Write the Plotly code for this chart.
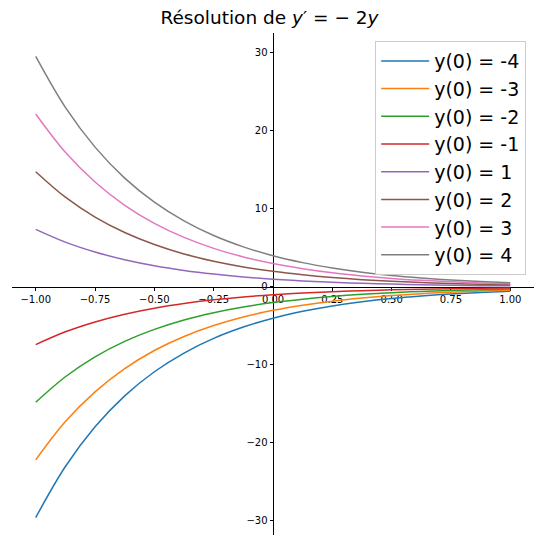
import plotly.graph_objects as go

x_vals = [-1.0, -0.875, -0.75, -0.625, -0.5, -0.375, -0.25, -0.125, 0.0,
          0.125, 0.25, 0.375, 0.5, 0.625, 0.75, 0.875, 1.0]

series_names = ["y(0) = -4", "y(0) = -3", "y(0) = -2", "y(0) = -1",
                "y(0) = 1", "y(0) = 2", "y(0) = 3", "y(0) = 4"]

y_m4 = [-29.56, -23.02, -17.93, -13.96, -10.87, -8.47, -6.59, -5.14, -4.00,
        -3.12, -2.43, -1.89, -1.47, -1.15, -0.89, -0.70, -0.54]
y_m3 = [-22.17, -17.26, -13.45, -10.47, -8.15, -6.35, -4.95, -3.85, -3.00,
        -2.34, -1.82, -1.42, -1.10, -0.86, -0.67, -0.52, -0.41]
y_m2 = [-14.78, -11.51, -8.96, -6.98, -5.44, -4.23, -3.30, -2.57, -2.00,
        -1.56, -1.21, -0.94, -0.74, -0.57, -0.45, -0.35, -0.27]
y_m1 = [-7.39, -5.75, -4.48, -3.49, -2.72, -2.12, -1.65, -1.28, -1.00,
        -0.78, -0.61, -0.47, -0.37, -0.29, -0.22, -0.17, -0.14]
y_p1 = [7.39, 5.75, 4.48, 3.49, 2.72, 2.12, 1.65, 1.28, 1.00,
        0.78, 0.61, 0.47, 0.37, 0.29, 0.22, 0.17, 0.14]
y_p2 = [14.78, 11.51, 8.96, 6.98, 5.44, 4.23, 3.30, 2.57, 2.00,
        1.56, 1.21, 0.94, 0.74, 0.57, 0.45, 0.35, 0.27]
y_p3 = [22.17, 17.26, 13.45, 10.47, 8.15, 6.35, 4.95, 3.85, 3.00,
        2.34, 1.82, 1.42, 1.10, 0.86, 0.67, 0.52, 0.41]
y_p4 = [29.56, 23.02, 17.93, 13.96, 10.87, 8.47, 6.59, 5.14, 4.00,
        3.12, 2.43, 1.89, 1.47, 1.15, 0.89, 0.70, 0.54]

all_series = [y_m4, y_m3, y_m2, y_m1, y_p1, y_p2, y_p3, y_p4]
colors = ["#1f77b4", "#ff7f0e", "#2ca02c", "#d62728",
          "#9467bd", "#8c564b", "#e377c2", "#7f7f7f"]

x_ticks = [-1.0, -0.75, -0.5, -0.25, 0.0, 0.25, 0.5, 0.75, 1.0]
y_ticks = [-30, -20, -10, 0, 10, 20, 30]

W, H = 539, 535
ml, mr, mt, mb = 12, 5, 33, 0
x_range = [-1.1, 1.1]
y_range = [-31.8, 32.56]

fig = go.Figure()
for name, ys, c in zip(series_names, all_series, colors):
    fig.add_trace(go.Scatter(x=x_vals, y=ys, mode="lines", name=name,
                             line=dict(color=c, width=1.5, shape="spline")))

# positions of the centered spines (fractions of the plot area)
xpos = (0 - x_range[0]) / (x_range[1] - x_range[0])
ypos = (0 - y_range[0]) / (y_range[1] - y_range[0])

font = "DejaVu Sans, sans-serif"
fig.update_layout(
    width=W, height=H,
    margin=dict(l=ml, r=mr, t=mt, b=mb, autoexpand=False),
    paper_bgcolor="white", plot_bgcolor="white",
    font=dict(family=font, color="black"),
    title=dict(text="Résolution de <i>y</i>′ = − 2<i>y</i>",
               x=0.5, xanchor="center", y=1 - 18 / H, yanchor="middle",
               yref="container", font=dict(size=18.5, family=font)),
    xaxis=dict(range=x_range, anchor="free", position=ypos,
               domain=[0, 1], showgrid=False, zeroline=False,
               showline=True, linecolor="black", linewidth=1,
               ticks="outside", ticklen=3.5, tickwidth=1, tickcolor="black",
               tickvals=x_ticks, tickformat=".2f", automargin=False,
               tickfont=dict(size=10, family=font), layer="below traces"),
    yaxis=dict(range=y_range, anchor="free", position=xpos,
               domain=[0, 1], showgrid=False, zeroline=False,
               showline=True, linecolor="black", linewidth=1,
               ticks="outside", ticklen=3.5, tickwidth=1, tickcolor="black",
               tickvals=y_ticks, automargin=False,
               tickfont=dict(size=10, family=font), layer="below traces"),
    legend=dict(x=0.985, xanchor="right", y=0.984, yanchor="top",
                bgcolor="rgba(255,255,255,0.8)", bordercolor="#cccccc",
                borderwidth=1, font=dict(size=19, family=font),
                tracegroupgap=0, itemwidth=48),
    showlegend=True,
)

fig.write_html("out.html",
               config={"displayModeBar": False},
               post_script="document.body.style.margin='0';"
                           "document.body.style.overflow='hidden';")
